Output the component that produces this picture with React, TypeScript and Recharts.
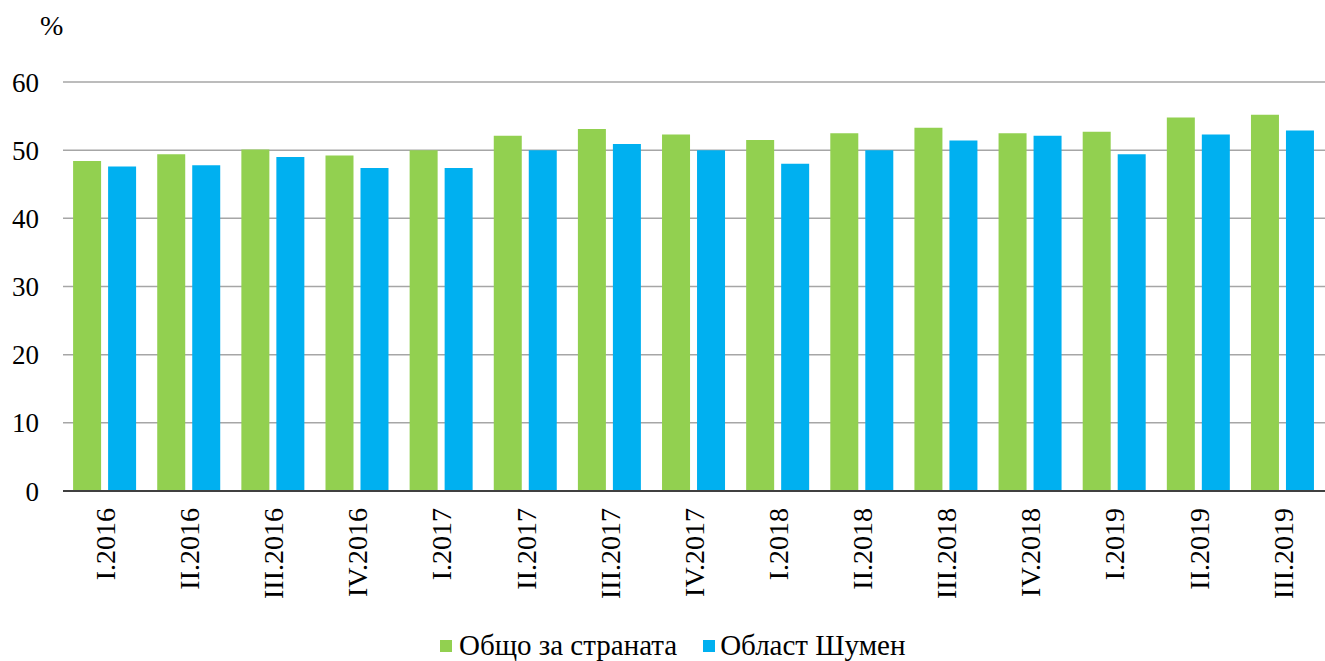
import { BarChart, Bar, XAxis, YAxis, CartesianGrid } from "recharts"

const categories = [
  "I.2016", "II.2016", "III.2016", "IV.2016",
  "I.2017", "II.2017", "III.2017", "IV.2017",
  "I.2018", "II.2018", "III.2018", "IV.2018",
  "I.2019", "II.2019", "III.2019",
]
const countryValues = [48.4, 49.4, 50.1, 49.2, 50.0, 52.1, 53.1, 52.3, 51.5, 52.5, 53.3, 52.5, 52.7, 54.8, 55.2]
const shumenValues = [47.6, 47.8, 49.0, 47.4, 47.4, 50.0, 50.9, 50.0, 48.0, 50.0, 51.4, 52.1, 49.4, 52.3, 52.9]
const yTicks = [0, 10, 20, 30, 40, 50, 60]

const GREEN = "#92d050"
const BLUE = "#00b0f0"
const FONT = "Liberation Serif"

const data = categories.map((name, i) => ({
  name,
  country: countryValues[i],
  shumen: shumenValues[i],
}))

function RotatedTick(props: any) {
  const { x, y, payload } = props
  const ty = y + 17
  return (
    <text
      x={x}
      y={ty}
      dy="0.35em"
      textAnchor="end"
      transform={`rotate(-90, ${x}, ${ty})`}
      fill="#000"
      fontSize={28}
      fontFamily={FONT}
    >
      {payload.value}
    </text>
  )
}

export default function App() {
  return (
    <div style={{ position: "absolute", left: 0, top: 0, width: 1325, height: 661, background: "#fff", fontFamily: FONT }}>
      <div style={{ position: "absolute", left: 40, top: 10, fontSize: 28, color: "#000" }}>%</div>
      <BarChart
        width={1325}
        height={661}
        data={data}
        margin={{ top: 82, right: 0, bottom: 50, left: 0 }}
        barCategoryGap="12%"
        barGap={7}
      >
        <CartesianGrid vertical={false} stroke="#a6a6a6" strokeWidth={1.5} />
        <XAxis
          dataKey="name"
          height={120}
          interval={0}
          tickLine={false}
          tickSize={0}
          tickMargin={0}
          axisLine={{ stroke: "#404040", strokeWidth: 2 }}
          tick={<RotatedTick />}
        />
        <YAxis
          width={63}
          domain={[0, 60]}
          ticks={yTicks}
          interval={0}
          axisLine={false}
          tickLine={false}
          tickSize={0}
          tickMargin={24}
          tick={{ fill: "#000", fontSize: 27, fontFamily: FONT }}
        />
        <Bar dataKey="country" fill={GREEN} isAnimationActive={false} />
        <Bar dataKey="shumen" fill={BLUE} isAnimationActive={false} />
      </BarChart>
      <div
        style={{
          position: "absolute",
          left: 440,
          top: 629,
          display: "flex",
          alignItems: "center",
          fontSize: 29,
          color: "#000",
          whiteSpace: "nowrap",
        }}
      >
        <span style={{ display: "inline-block", width: 12, height: 12, background: GREEN, marginRight: 7 }} />
        <span>Общо за страната</span>
        <span style={{ display: "inline-block", width: 12, height: 12, background: BLUE, marginLeft: 26, marginRight: 5 }} />
        <span>Област Шумен</span>
      </div>
    </div>
  )
}
